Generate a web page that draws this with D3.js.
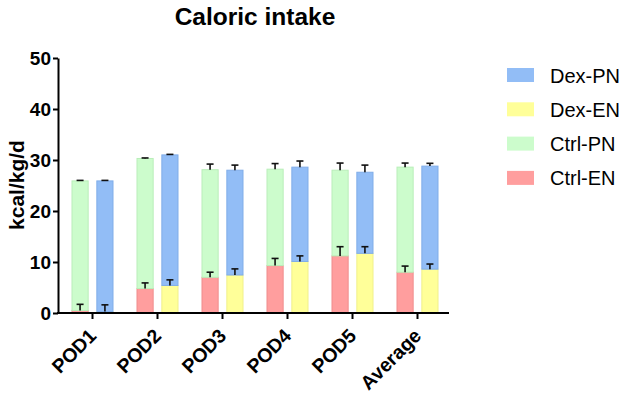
<!DOCTYPE html>
<html>
<head>
<meta charset="utf-8">
<script src="https://cdn.jsdelivr.net/npm/d3@7"></script>
<style>
  body { margin: 0; background: #fff; }
  svg { display: block; font-family: "Liberation Sans", Arial, sans-serif; }
</style>
</head>
<body>
<div id="chart"></div>
<script>
// Data
const categories = ["POD1", "POD2", "POD3", "POD4", "POD5", "Average"]
const ctrlEN = [0.5, 4.8, 7.0, 9.3, 11.2, 8.0]
const ctrlENErr = [1.2, 1.1, 1.0, 1.4, 1.8, 1.2]
const ctrlPN = [25.4, 25.5, 21.1, 18.9, 16.8, 20.6]
const ctrlPNErr = [0.1, 0.1, 1.1, 1.1, 1.4, 0.8]
const dexEN = [0.3, 5.4, 7.45, 10.1, 11.7, 8.6]
const dexENErr = [1.3, 1.1, 1.2, 1.1, 1.3, 1.0]
const dexPN = [25.6, 25.6, 20.55, 18.5, 15.9, 20.2]
const dexPNErr = [0.1, 0.1, 1.0, 1.2, 1.4, 0.55]
const yTicks = [0, 10, 20, 30, 40, 50]
const legendItems = ["Dex-PN", "Dex-EN", "Ctrl-PN", "Ctrl-EN"]

const colors = {
  "Ctrl-EN": "#ff9e9e",
  "Ctrl-PN": "#ccfccc",
  "Dex-EN": "#ffff99",
  "Dex-PN": "#92bdf6",
}
const borders = {
  "Ctrl-EN": "#f08c8c",
  "Ctrl-PN": "#b9eeb9",
  "Dex-EN": "#f0f08a",
  "Dex-PN": "#80ade9",
}

const width = 624
const height = 397

const svg = d3.select("#chart")
  .append("svg")
  .attr("width", width)
  .attr("height", height)

// Scales
const xScale = d3.scaleBand()
  .domain(categories)
  .range([60, 450])

const groupScale = d3.scaleBand()
  .domain(["Ctrl", "Dex"])
  .range([-20.5, 20.5])
  .paddingInner(0.35)

const yScale = d3.scaleLinear()
  .domain([0, 50])
  .range([313, 58])

// Build stacked rows per group
const rows = categories.map((c, i) => ({
  cat: c,
  Ctrl: { EN: ctrlEN[i], PN: ctrlPN[i], ENErr: ctrlENErr[i], PNErr: ctrlPNErr[i] },
  Dex: { EN: dexEN[i], PN: dexPN[i], ENErr: dexENErr[i], PNErr: dexPNErr[i] },
}))

const segments = []
rows.forEach(r => {
  ;["Ctrl", "Dex"].forEach(g => {
    const d = r[g]
    segments.push({ cat: r.cat, group: g, key: g + "-EN", y0: 0, y1: d.EN, err: d.ENErr })
    segments.push({ cat: r.cat, group: g, key: g + "-PN", y0: d.EN, y1: d.EN + d.PN, err: d.PNErr })
  })
})

const bw = groupScale.bandwidth()
const barX = d => xScale(d.cat) + xScale.bandwidth() / 2 + groupScale(d.group)

// Bars
svg.append("g")
  .selectAll("rect")
  .data(segments)
  .join("rect")
    .attr("x", barX)
    .attr("width", bw)
    .attr("y", d => yScale(d.y1))
    .attr("height", d => yScale(d.y0) - yScale(d.y1))
    .attr("fill", d => colors[d.key])
    .attr("stroke", d => borders[d.key])
    .attr("stroke-width", 1)

// Error bars (upper only)
const errG = svg.append("g")
  .attr("stroke", "#111")
  .attr("stroke-width", 1.6)
errG.selectAll("line.v")
  .data(segments)
  .join("line")
    .attr("class", "v")
    .attr("x1", d => barX(d) + bw / 2)
    .attr("x2", d => barX(d) + bw / 2)
    .attr("y1", d => yScale(d.y1))
    .attr("y2", d => yScale(d.y1 + d.err))
errG.selectAll("line.cap")
  .data(segments)
  .join("line")
    .attr("class", "cap")
    .attr("x1", d => barX(d) + bw / 2 - 3.5)
    .attr("x2", d => barX(d) + bw / 2 + 3.5)
    .attr("y1", d => yScale(d.y1 + d.err))
    .attr("y2", d => yScale(d.y1 + d.err))

// Y axis
const yAxis = svg.append("g")
  .attr("transform", "translate(58,0)")
  .call(d3.axisLeft(yScale).tickValues(yTicks).tickSize(5).tickPadding(2).tickSizeOuter(0))
yAxis.select(".domain").attr("stroke", "#000").attr("stroke-width", 2)
yAxis.selectAll(".tick line").attr("stroke", "#000").attr("stroke-width", 2)
yAxis.selectAll(".tick text")
  .attr("font-size", 19)
  .attr("font-weight", "bold")
  .attr("fill", "#000")
  .attr("font-family", "'Liberation Sans', Arial, sans-serif")

// X axis
const xAxis = svg.append("g")
  .attr("transform", "translate(0,313)")
xAxis.append("line")
  .attr("x1", 57)
  .attr("x2", 449)
  .attr("y1", 0)
  .attr("y2", 0)
  .attr("stroke", "#000")
  .attr("stroke-width", 2)
xAxis.selectAll("line.tick")
  .data(categories)
  .join("line")
    .attr("class", "tick")
    .attr("x1", d => xScale(d) + xScale.bandwidth() / 2)
    .attr("x2", d => xScale(d) + xScale.bandwidth() / 2)
    .attr("y1", 0)
    .attr("y2", 6)
    .attr("stroke", "#000")
    .attr("stroke-width", 2)
xAxis.selectAll("text")
  .data(categories)
  .join("text")
    .attr("transform", d => `translate(${xScale(d) + xScale.bandwidth() / 2 + 5},24) rotate(-45)`)
    .attr("text-anchor", "end")
    .attr("font-size", 19.5)
    .attr("font-weight", "bold")
    .attr("fill", "#000")
    .text(d => d)

// Y label
svg.append("text")
  .attr("transform", "translate(24,185) rotate(-90)")
  .attr("text-anchor", "middle")
  .attr("font-size", 21)
  .attr("font-weight", "bold")
  .text("kcal/kg/d")

// Title
svg.append("text")
  .attr("x", 255)
  .attr("y", 25)
  .attr("text-anchor", "middle")
  .attr("font-size", 24.5)
  .attr("font-weight", "bold")
  .text("Caloric intake")

// Legend
const legend = svg.append("g")
  .selectAll("g")
  .data(legendItems)
  .join("g")
    .attr("transform", (d, i) => `translate(507,${75 + i * 34.3})`)
legend.append("rect")
  .attr("x", 0)
  .attr("y", -7)
  .attr("width", 27)
  .attr("height", 14)
  .attr("fill", d => colors[d])
legend.append("text")
  .attr("x", 43)
  .attr("y", 7.5)
  .attr("font-size", 20)
  .text(d => d)
</script>
</body>
</html>
